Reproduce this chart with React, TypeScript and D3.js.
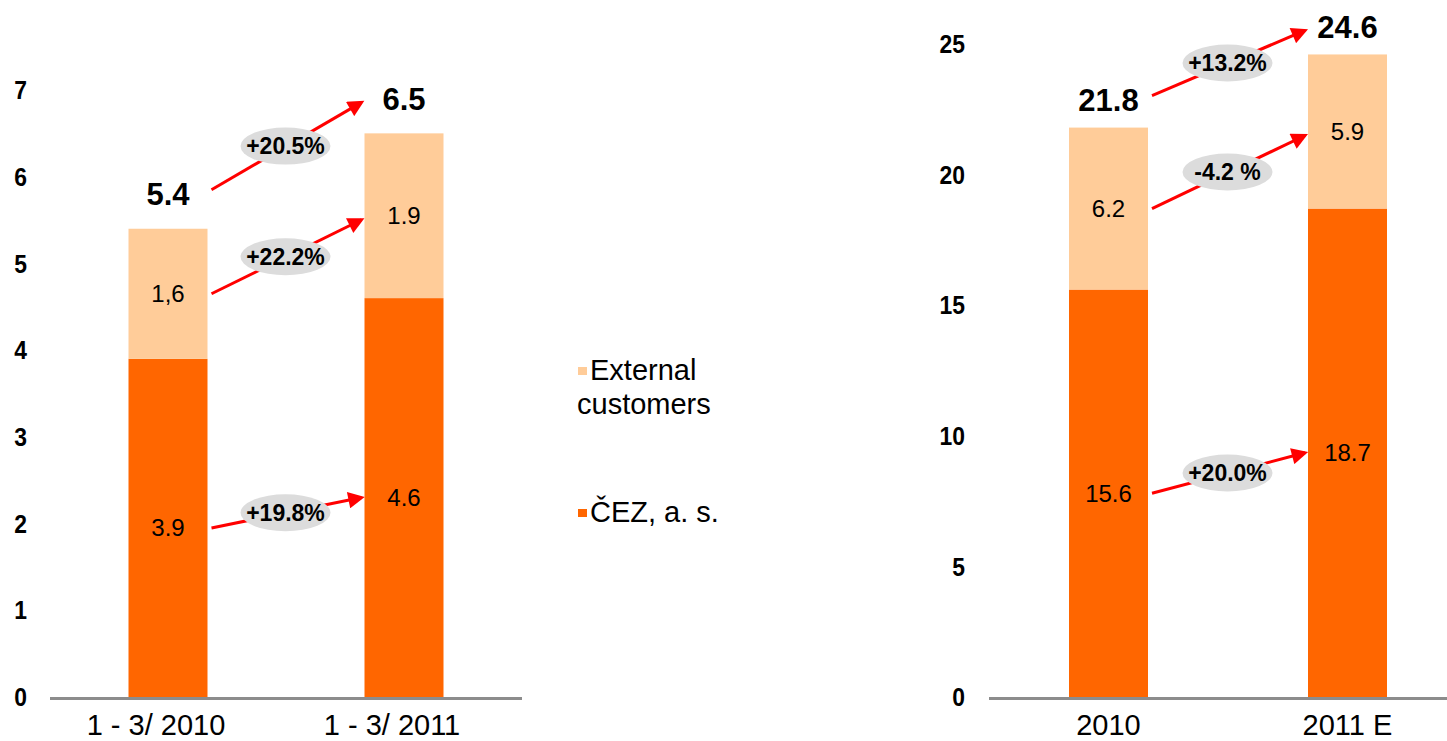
import React from "react";
import * as d3 from "d3";

const leftCategories = ["1 - 3/ 2010", "1 - 3/ 2011"];
const leftCez = [3.9, 4.6];
const leftExternal = [1.5, 1.9];
const leftExternalLabels = ["1,6", "1.9"];
const leftTotals = [5.4, 6.5];
const leftTicks = [0, 1, 2, 3, 4, 5, 6, 7];
const leftGrowth = ["+20.5%", "+22.2%", "+19.8%"];

const rightCategories = ["2010", "2011 E"];
const rightCez = [15.6, 18.7];
const rightExternal = [6.2, 5.9];
const rightExternalLabels = ["6.2", "5.9"];
const rightTotals = [21.8, 24.6];
const rightTicks = [0, 5, 10, 15, 20, 25];
const rightGrowth = ["+13.2%", "-4.2 %", "+20.0%"];

const legendItems = [
  { lines: ["External", "customers"], color: "#FFCC99" },
  { lines: ["ČEZ, a. s."], color: "#FF6600" },
];

const DARK = "#FF6600";
const LIGHT = "#FFCC99";
const FONT = "'Liberation Sans', Arial, sans-serif";

type PanelProps = {
  categories: string[];
  cez: number[];
  external: number[];
  externalLabels: string[];
  totals: number[];
  ticks: number[];
  growth: string[];
  xRange: [number, number];
  yMax: number;
  yTop: number;
  axisX: [number, number];
  tickX: number;
  totalOffset: number;
  catDx: number;
  id: string;
};

function Panel(p: PanelProps) {
  const base = 697;
  const x = d3.scalePoint<string>().domain(p.categories).range(p.xRange).padding(0.5);
  const y = d3.scaleLinear().domain([0, p.yMax]).range([base, p.yTop]);
  const bw = 79;
  const cx = p.categories.map((c) => x(c) as number);

  const totalY = p.totals.map((t) => y(t) - p.totalOffset);
  const extY = p.cez.map((c, i) => (y(c) + y(p.totals[i])) / 2);
  const cezY = p.cez.map((c) => (y(c) + y(0)) / 2);

  const x1 = cx[0] + bw / 2 + 4;
  const x2 = cx[1] - bw / 2 - 3;
  const arrows = [
    { y1: totalY[0] - 4, y2: totalY[1] + 4, label: p.growth[0] },
    { y1: extY[0], y2: extY[1] + 4, label: p.growth[1] },
    { y1: cezY[0], y2: cezY[1], label: p.growth[2] },
  ];

  return (
    <g>
      <line x1={p.axisX[0]} x2={p.axisX[1]} y1={base + 1.5} y2={base + 1.5} stroke="#8C8C8C" strokeWidth={3} />
      {p.ticks.map((t) => (
        <text
          key={t}
          transform={`translate(${p.tickX},${y(t)}) scale(0.88,1)`}
          dy="0.35em"
          textAnchor="end"
          fontFamily={FONT}
          fontWeight="bold"
          fontSize={26}
          fill="#000"
        >
          {t}
        </text>
      ))}
      {p.categories.map((c, i) => (
        <g key={c}>
          <rect x={cx[i] - bw / 2} y={y(p.cez[i])} width={bw} height={y(0) - y(p.cez[i])} fill={DARK} />
          <rect x={cx[i] - bw / 2} y={y(p.totals[i])} width={bw} height={y(p.cez[i]) - y(p.totals[i])} fill={LIGHT} />
          <text x={cx[i]} y={cezY[i]} dy="0.35em" textAnchor="middle" fontFamily={FONT} fontSize={24} fill="#000">
            {p.cez[i].toFixed(1)}
          </text>
          <text x={cx[i]} y={extY[i]} dy="0.35em" textAnchor="middle" fontFamily={FONT} fontSize={24} fill="#000">
            {p.externalLabels[i]}
          </text>
          <text x={cx[i]} y={totalY[i]} dy="0.36em" textAnchor="middle" fontFamily={FONT} fontWeight="bold" fontSize={31} fill="#000">
            {p.totals[i].toFixed(1)}
          </text>
          <text x={cx[i] + p.catDx} y={735} textAnchor="middle" fontFamily={FONT} fontSize={29} fill="#000">
            {c}
          </text>
        </g>
      ))}
      {arrows.map((a, i) => {
        const mx = (x1 + x2) / 2 - 1;
        const my = (a.y1 + a.y2) / 2;
        return (
          <g key={i}>
            <line x1={x1} y1={a.y1} x2={x2} y2={a.y2} stroke="#FF0000" strokeWidth={3} markerEnd={`url(#arrow-${p.id})`} />
            <ellipse cx={mx} cy={my} rx={45} ry={18.5} fill="#DCDCDC" />
            <text x={mx} y={my} dy="0.36em" textAnchor="middle" fontFamily={FONT} fontWeight="bold" fontSize={23} fill="#000">
              {a.label}
            </text>
          </g>
        );
      })}
    </g>
  );
}

export default function App() {
  return (
    <svg width={1447} height={741} style={{ position: "absolute", left: 0, top: 0, background: "#fff" }}>
      <defs>
        {["l", "r"].map((id) => (
          <marker key={id} id={`arrow-${id}`} viewBox="0 0 10 10" refX={8} refY={5} markerWidth={6} markerHeight={5.5} markerUnits="strokeWidth" orient="auto">
            <path d="M0,0 L10,5 L0,10 z" fill="#FF0000" />
          </marker>
        ))}
      </defs>
      <Panel
        id="l"
        categories={leftCategories}
        cez={leftCez}
        external={leftExternal}
        externalLabels={leftExternalLabels}
        totals={leftTotals}
        ticks={leftTicks}
        growth={leftGrowth}
        xRange={[50, 522]}
        yMax={7}
        yTop={90}
        axisX={[50, 522]}
        tickX={27}
        totalOffset={35}
        catDx={-12}
      />
      <Panel
        id="r"
        categories={rightCategories}
        cez={rightCez}
        external={rightExternal}
        externalLabels={rightExternalLabels}
        totals={rightTotals}
        ticks={rightTicks}
        growth={rightGrowth}
        xRange={[989, 1467]}
        yMax={25}
        yTop={44}
        axisX={[989, 1447]}
        tickX={965}
        totalOffset={28}
        catDx={0}
      />
      <g>
        {legendItems.map((item, i) => {
          const top = i === 0 ? 380 : 522;
          return (
            <g key={i}>
              <rect x={578} y={top - 13} width={9} height={8} fill={item.color} />
              {item.lines.map((ln, j) => (
                <text key={j} x={j === 0 ? 590 : 577} y={top + j * 34} fontFamily={FONT} fontSize={29} fill="#000">
                  {ln}
                </text>
              ))}
            </g>
          );
        })}
      </g>
    </svg>
  );
}
